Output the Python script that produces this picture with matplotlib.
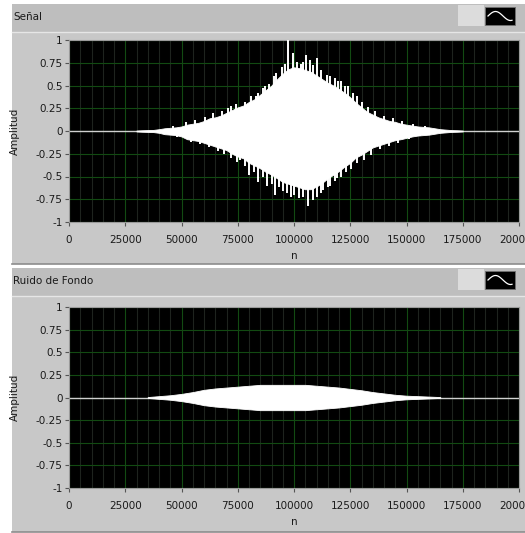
import numpy as np
import matplotlib
matplotlib.use("Agg")
import matplotlib.pyplot as plt
from matplotlib.patches import Rectangle
from matplotlib.lines import Line2D
from matplotlib.ticker import MultipleLocator, FixedLocator

W, H = 525, 533

# ---- Señal: envelope of the recorded signal (upper / lower extents) ----
sig_n = [30000, 32500, 35000, 37500, 40000, 42500, 45000, 47500, 50000, 52500,
         55000, 57500, 60000, 62500, 65000, 67500, 70000, 72500, 75000, 77500,
         80000, 82500, 85000, 87500, 90000, 92500, 95000, 97500, 100000, 102500,
         105000, 107500, 110000, 112500, 115000, 117500, 120000, 122500, 125000, 127500,
         130000, 132500, 135000, 137500, 140000, 142500, 145000, 147500, 150000, 152500,
         155000, 157500, 160000, 162500, 165000, 167500, 170000, 172500, 175000]
sig_upper = [0.005, 0.008, 0.01, 0.012, 0.02, 0.03, 0.035, 0.04, 0.05, 0.07,
             0.08, 0.09, 0.11, 0.14, 0.15, 0.17, 0.20, 0.23, 0.26, 0.28,
             0.32, 0.35, 0.40, 0.45, 0.50, 0.57, 0.63, 0.68, 0.70, 0.69,
             0.67, 0.65, 0.61, 0.57, 0.53, 0.50, 0.46, 0.42, 0.37, 0.31,
             0.26, 0.21, 0.18, 0.15, 0.13, 0.11, 0.10, 0.08, 0.07, 0.06,
             0.05, 0.045, 0.04, 0.03, 0.02, 0.015, 0.01, 0.008, 0.005]
sig_lower = [-0.005, -0.008, -0.01, -0.012, -0.02, -0.035, -0.04, -0.045, -0.06, -0.09,
             -0.10, -0.11, -0.13, -0.15, -0.17, -0.19, -0.21, -0.25, -0.28, -0.30,
             -0.35, -0.38, -0.41, -0.45, -0.48, -0.52, -0.56, -0.58, -0.60, -0.62,
             -0.64, -0.64, -0.61, -0.57, -0.52, -0.48, -0.44, -0.39, -0.35, -0.29,
             -0.26, -0.22, -0.18, -0.16, -0.14, -0.12, -0.10, -0.09, -0.075, -0.06,
             -0.05, -0.045, -0.04, -0.03, -0.02, -0.015, -0.01, -0.008, -0.005]

# peaks sticking out of the envelope
peak_up_n = [46000, 52000, 56000, 60500, 64000, 68000, 70500, 72000, 74000, 78000,
             81000, 83000, 84000, 86000, 87000, 89000, 91000, 92000, 94500, 96000,
             97500, 99500, 101500, 103000, 104000, 105500, 107000, 108500, 110000, 112000,
             114500, 116000, 118000, 119500, 121000, 122500, 124000, 126000, 128000, 130000,
             133000, 136000, 140000, 144000, 148000, 153000, 158000]
peak_up_v = [0.06, 0.10, 0.12, 0.15, 0.20, 0.22, 0.25, 0.28, 0.30, 0.32,
             0.38, 0.38, 0.42, 0.47, 0.49, 0.52, 0.60, 0.64, 0.70, 0.74,
             1.00, 0.86, 0.76, 0.74, 0.76, 0.84, 0.78, 0.72, 0.80, 0.67,
             0.62, 0.60, 0.58, 0.55, 0.55, 0.50, 0.50, 0.42, 0.38, 0.32,
             0.26, 0.22, 0.17, 0.14, 0.11, 0.08, 0.06]
peak_dn_n = [48000, 54000, 58000, 62000, 66000, 69000, 72000, 74500, 76000, 78000,
             80000, 82000, 84000, 86000, 88000, 90000, 91500, 93500, 95000, 97000,
             98500, 100000, 102000, 104000, 106000, 108500, 110000, 112000, 113000, 115000,
             116000, 118000, 119000, 121000, 123000, 125500, 128000, 131000, 134000, 138000,
             142000, 146000, 151000, 156000]
peak_dn_v = [-0.07, -0.12, -0.14, -0.18, -0.22, -0.25, -0.30, -0.34, -0.32, -0.38,
             -0.48, -0.45, -0.56, -0.50, -0.60, -0.58, -0.70, -0.62, -0.66, -0.68,
             -0.72, -0.70, -0.74, -0.72, -0.82, -0.76, -0.73, -0.68, -0.65, -0.62,
             -0.60, -0.55, -0.52, -0.50, -0.45, -0.42, -0.35, -0.32, -0.26, -0.20,
             -0.16, -0.13, -0.09, -0.06]

# ---- Ruido de Fondo: envelope magnitude of the background noise ----
noise_n = [35000, 40000, 45000, 50000, 55000, 60000, 65000, 70000, 75000, 80000,
           85000, 90000, 95000, 100000, 105000, 110000, 115000, 120000, 125000, 130000,
           135000, 140000, 145000, 150000, 155000, 160000, 165000]
noise_amp = [0.005, 0.015, 0.025, 0.04, 0.06, 0.085, 0.10, 0.11, 0.12, 0.13,
             0.14, 0.14, 0.14, 0.14, 0.14, 0.13, 0.12, 0.11, 0.095, 0.08,
             0.06, 0.045, 0.03, 0.02, 0.015, 0.01, 0.005]

x_ticks = [0, 25000, 50000, 75000, 100000, 125000, 150000, 175000, 200000]
y_ticks = [-1, -0.75, -0.5, -0.25, 0, 0.25, 0.5, 0.75, 1]
y_ticklabels = ["-1", "-0.75", "-0.5", "-0.25", "0", "0.25", "0.5", "0.75", "1"]

panel_gray = "#c8c8c8"
bar_gray = "#bebebe"
text_col = "#1a1a1a"
major_grid = "#124a12"
minor_grid = "#1e231e"

fig = plt.figure(figsize=(W / 100, H / 100), dpi=100)
fig.patch.set_facecolor("white")


def fx(x):
    return x / W


def fy(y):
    return 1 - y / H


def rect_px(x0, y0, x1, y1, **kw):
    fig.add_artist(Rectangle((fx(x0), fy(y1)), fx(x1) - fx(x0), fy(y0) - fy(y1),
                             transform=fig.transFigure, **kw))


def hline_px(x0, x1, y, **kw):
    fig.add_artist(Line2D([fx(x0), fx(x1)], [fy(y), fy(y)], transform=fig.transFigure, **kw))


def panel(top, bottom, title):
    rect_px(12, top, W, bottom, facecolor=panel_gray, edgecolor="none", zorder=0)
    rect_px(12, top, W, top + 28, facecolor=bar_gray, edgecolor="none", zorder=0)
    hline_px(12, W, top + 28, color="#e6e6e6", lw=1.0, zorder=1)
    hline_px(12, W, bottom, color="#8c8c8c", lw=1.2, zorder=1)
    fig.text(fx(13), fy(top + 13), title, fontsize=7.5, color=text_col,
             ha="left", va="center")
    # plot-legend button at the right of the title bar
    rect_px(458, top + 1, 484, top + 22, facecolor="#dcdcdc", edgecolor="none", zorder=1)
    rect_px(485, top + 3, 515, top + 21, facecolor="black", edgecolor="#707070",
            lw=0.6, zorder=2)
    t = np.linspace(0, 1, 40)
    wx = 488 + 24 * t
    wy = top + 12 - 4.5 * np.sin(np.pi * 1.6 * t)
    fig.add_artist(Line2D(fx(wx), fy(wy), transform=fig.transFigure,
                          color="white", lw=0.9, zorder=3))


panel(4, 264, "Señal")
panel(268, 532, "Ruido de Fondo")


def make_axes(top, bottom):
    ax = fig.add_axes([fx(69), fy(bottom), fx(519) - fx(69), fy(top) - fy(bottom)])
    ax.set_facecolor("black")
    ax.set_xlim(0, 200000)
    ax.set_ylim(-1, 1)
    ax.xaxis.set_major_locator(FixedLocator(x_ticks))
    ax.xaxis.set_minor_locator(MultipleLocator(5000))
    ax.set_xticklabels([str(v) for v in x_ticks])
    ax.yaxis.set_major_locator(FixedLocator(y_ticks))
    ax.set_yticklabels(y_ticklabels)
    ax.grid(which="major", color=major_grid, lw=0.8)
    ax.grid(which="minor", axis="x", color=minor_grid, lw=0.8)
    ax.set_axisbelow(True)
    ax.tick_params(which="major", length=3, width=0.8, color="#555555",
                   labelsize=7.5, labelcolor=text_col)
    ax.tick_params(axis="x", pad=6.5)
    ax.tick_params(axis="y", pad=1.5)
    ax.tick_params(which="minor", length=0)
    for s in ax.spines.values():
        s.set_color("#9a9a9a")
        s.set_linewidth(0.8)
    ax.set_xlabel("n", fontsize=7.5, color=text_col, labelpad=4)
    ax.set_ylabel("Amplitud", fontsize=7.5, color=text_col)
    ax.yaxis.set_label_coords((20 - 69) / 450, 0.5)
    return ax


ax1 = make_axes(40, 222)
ax1.plot([x_ticks[0], x_ticks[-1]], [0, 0], color="#d0d0d0", lw=1.0, zorder=2)
ax1.fill_between(sig_n, sig_lower, sig_upper, color="white", lw=0.6, ec="white", zorder=3)
ax1.vlines(peak_up_n, 0, peak_up_v, color="white", lw=1.4, zorder=3)
ax1.vlines(peak_dn_n, peak_dn_v, 0, color="white", lw=1.4, zorder=3)

ax2 = make_axes(307, 488)
noise_amp = np.asarray(noise_amp)
ax2.plot([x_ticks[0], x_ticks[-1]], [0, 0], color="#d0d0d0", lw=1.0, zorder=2)
ax2.fill_between(noise_n, -noise_amp, noise_amp, color="white", lw=0.6, ec="white", zorder=3)

fig.savefig("out.png", dpi=100, facecolor=fig.get_facecolor())
